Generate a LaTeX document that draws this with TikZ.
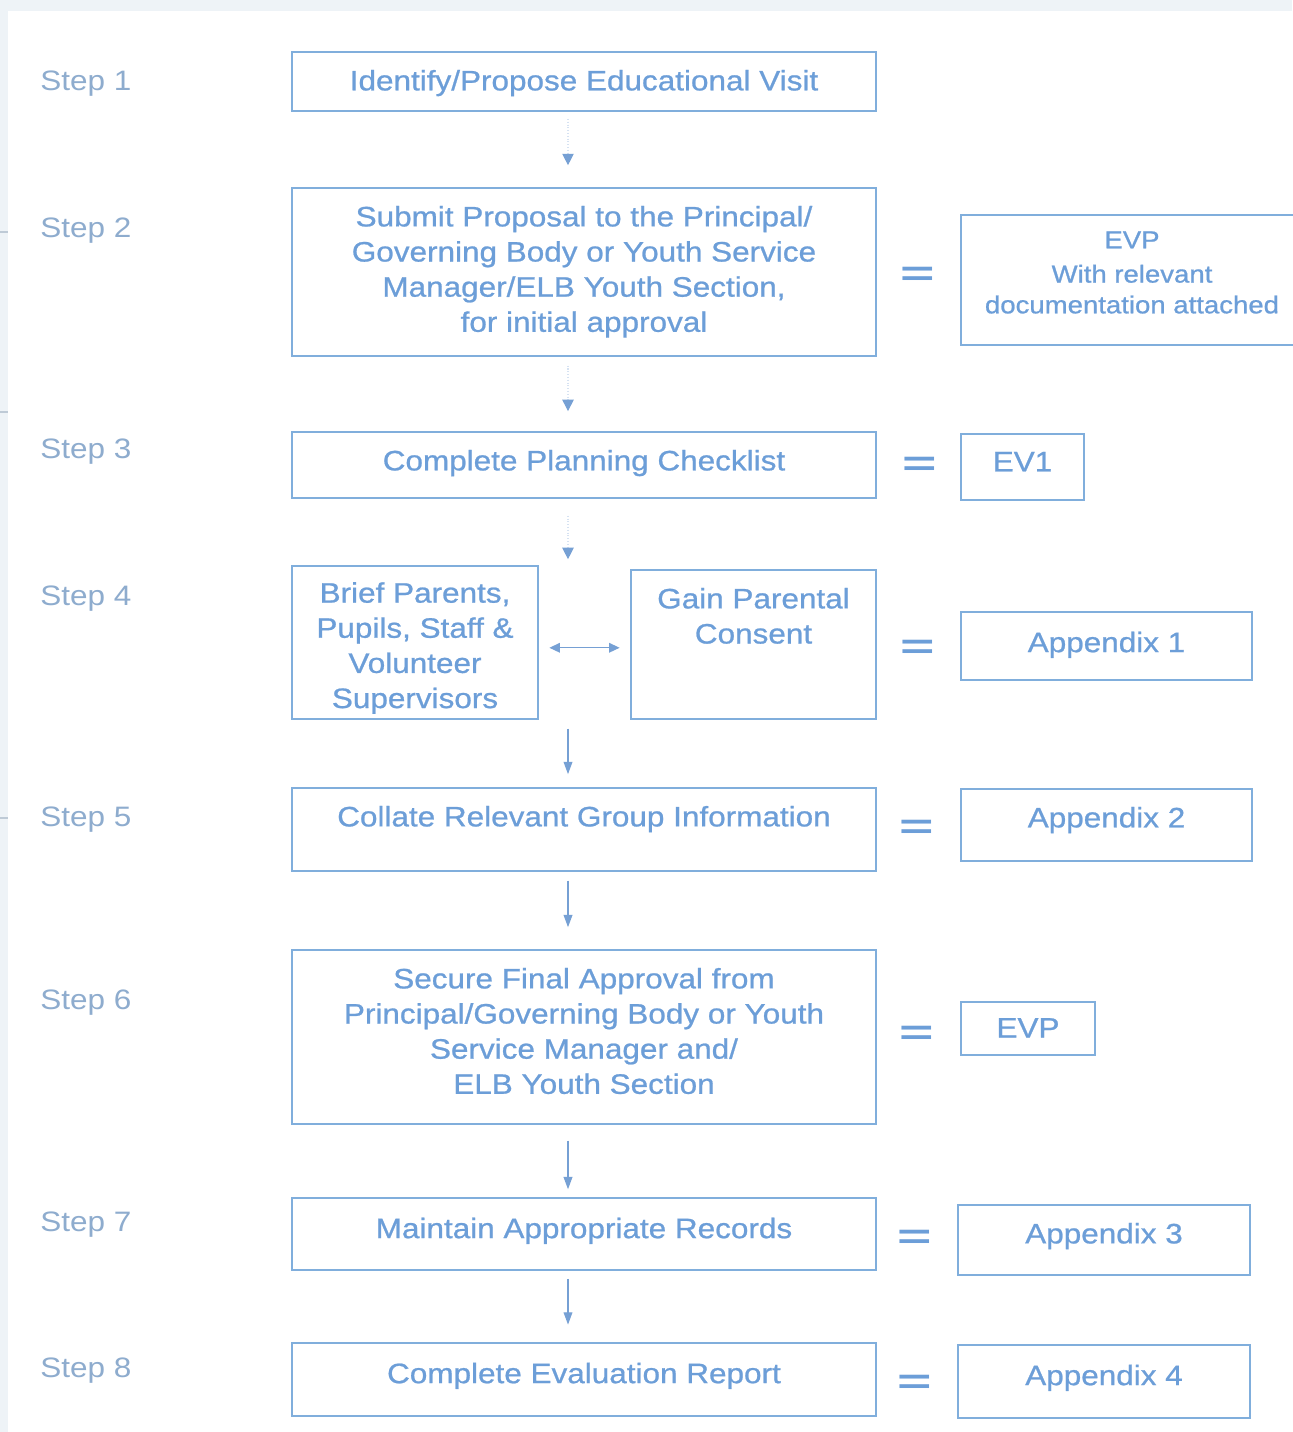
\documentclass[tikz,border=0pt]{standalone}
\usepackage{fontspec}
\setmainfont[FakeStretch=1.12]{Liberation Sans}
\newfontfamily\boxfont[FakeStretch=1.12,FakeBold=0.8]{Liberation Sans}
\usepackage{graphicx}
\usetikzlibrary{arrows.meta,positioning}

\definecolor{pageedge}{RGB}{238,243,247}
\definecolor{boxline}{RGB}{128,174,220}
\definecolor{boxtext}{RGB}{108,158,216}
\definecolor{steptext}{RGB}{142,172,206}
\definecolor{arrowc}{RGB}{118,160,212}
\definecolor{tickc}{RGB}{190,202,214}

\tikzset{
  stepbox/.style={draw=boxline, line width=1pt, minimum width=11.68cm, inner sep=0pt},
  docbox/.style={stepbox, minimum width=5.82cm},
  boxlabel/.style={align=center, anchor=north, yshift=-7.2pt, text=boxtext,
    font=\boxfont\fontsize{16}{20}\selectfont},
  steplabel/.style={anchor=west, inner sep=0pt, text=steptext, font=\fontsize{16}{20}\selectfont},
  eqsign/.style={inner sep=0pt, text=boxtext, font=\bfseries\fontsize{20}{20}\selectfont},
  flow/.style={draw=arrowc, line width=0.7pt, -{Triangle[width=5pt,length=7pt]}},
  faintflow/.style={draw=arrowc!30, line width=0.6pt, densely dotted,
    -{Triangle[width=6.5pt,length=6.5pt,color=arrowc]}},
}

\begin{document}
\begin{tikzpicture}[x=0.02cm, y=-0.02cm]
  %%%%% PAGE %%%%%
  \useasboundingbox (0,0) rectangle (1292,1432);
  \fill[pageedge] (0,0) rectangle (1292,1432);
  \fill[white] (8,11) rectangle (1292,1432);
  \draw[tickc, line width=0.6pt] (0,232) -- (8,232);
  \draw[tickc, line width=0.6pt] (0,412) -- (8,412);
  \draw[tickc, line width=0.6pt] (0,818) -- (8,818);

  %%%%% STEP LABELS %%%%%
  \node[steplabel] (l1) at (40,84) {Step 1};
  \node[steplabel] (l2) at (40,231) {Step 2};
  \node[steplabel] (l3) at (40,452) {Step 3};
  \node[steplabel] (l4) at (40,599) {Step 4};
  \node[steplabel] (l5) at (40,820) {Step 5};
  \node[steplabel] (l6) at (40,1003) {Step 6};
  \node[steplabel] (l7) at (40,1225) {Step 7};
  \node[steplabel] (l8) at (40,1371) {Step 8};

  %%%%% MAIN COLUMN %%%%%
  \node[stepbox, minimum height=1.18cm,
    label={[boxlabel]north:{Identify/Propose Educational Visit}}] (s1) at (584,81.5) {};
  \node[stepbox, minimum height=3.36cm,
    label={[boxlabel]north:{Submit Proposal to the Principal/\\Governing Body or Youth Service\\Manager/ELB Youth Section,\\for initial approval}}] (s2) at (584,272) {};
  \node[stepbox, minimum height=1.32cm,
    label={[boxlabel]north:{Complete Planning Checklist}}] (s3) at (584,465) {};
  \node[stepbox, minimum width=4.92cm, minimum height=3.06cm,
    label={[boxlabel, yshift=1pt]north:{Brief Parents,\\Pupils, Staff \&\\Volunteer\\Supervisors}}] (brief) at (415,642.5) {};
  \node[stepbox, minimum width=4.9cm, minimum height=2.98cm,
    label={[boxlabel]north:{Gain Parental\\Consent}}] (gain) at (753.5,644.5) {};
  \node[stepbox, minimum height=1.66cm,
    label={[boxlabel]north:{Collate Relevant Group Information}}] (s5) at (584,829.5) {};
  \node[stepbox, minimum height=3.48cm,
    label={[boxlabel]north:{Secure Final Approval from\\Principal/Governing Body or Youth\\Service Manager and/\\ELB Youth Section}}] (s6) at (584,1037) {};
  \node[stepbox, minimum height=1.44cm,
    label={[boxlabel, yshift=-1pt]north:{Maintain Appropriate Records}}] (s7) at (584,1234) {};
  \node[stepbox, minimum height=1.46cm,
    label={[boxlabel, yshift=-1pt]north:{Complete Evaluation Report}}] (s8) at (584,1379.5) {};

  %%%%% DOCUMENTS %%%%%
  \node[docbox, minimum width=6.84cm, minimum height=2.6cm,
    label={[boxlabel, yshift=0.9pt, font=\boxfont\fontsize{14}{17.5}\selectfont]north:{EVP\\[2pt]With relevant\\documentation attached}}] (evp) at (1132,280) {};
  \node[docbox, minimum width=2.46cm, minimum height=1.32cm,
    label={[boxlabel]north:{EV1}}] (ev1) at (1022.5,467) {};
  \node[docbox, minimum height=1.36cm,
    label={[boxlabel, yshift=-1pt]north:{Appendix 1}}] (app1) at (1106.5,646) {};
  \node[docbox, minimum height=1.44cm,
    label={[boxlabel]north:{Appendix 2}}] (app2) at (1106.5,825) {};
  \node[docbox, minimum width=2.68cm, minimum height=1.06cm,
    label={[boxlabel, yshift=1pt]north:{EVP}}] (evp6) at (1028,1028.5) {};
  \node[docbox, minimum width=5.84cm, minimum height=1.4cm,
    label={[boxlabel]north:{Appendix 3}}] (app3) at (1104,1240) {};
  \node[docbox, minimum width=5.84cm, minimum height=1.46cm,
    label={[boxlabel, yshift=-1pt]north:{Appendix 4}}] (app4) at (1104,1381.5) {};

  %%%%% EQUALS %%%%%
  \node[eqsign] (e2) at (918,276) {\scalebox{1.5}[1]{=}};
  \node[eqsign] (e3) at (920,466) {\scalebox{1.5}[1]{=}};
  \node[eqsign] (e4) at (918,649) {\scalebox{1.5}[1]{=}};
  \node[eqsign] (e5) at (917,829) {\scalebox{1.5}[1]{=}};
  \node[eqsign] (e6) at (917,1035) {\scalebox{1.5}[1]{=}};
  \node[eqsign] (e7) at (915,1239) {\scalebox{1.5}[1]{=}};
  \node[eqsign] (e8) at (915,1384) {\scalebox{1.5}[1]{=}};

  %%%%% ARROWS %%%%%
  \coordinate (spine) at (568,0);
  \draw[faintflow, shorten <=4pt, shorten >=12.5pt] (s1.south -| spine) -- (s2.north -| spine);
  \draw[faintflow, shorten <=5pt, shorten >=11.4pt] (s2.south -| spine) -- (s3.north -| spine);
  \draw[faintflow, shorten <=9.6pt, shorten >=3.4pt] (s3.south -| spine) -- (brief.north -| spine);
  \draw[flow, shorten <=5pt, shorten >=7.4pt] (brief.south -| spine) -- (s5.north -| spine);
  \draw[flow, shorten <=5pt, shorten >=12.5pt] (s5.south -| spine) -- (s6.north -| spine);
  \draw[flow, shorten <=9pt, shorten >=4.5pt] (s6.south -| spine) -- (s7.north -| spine);
  \draw[flow, shorten <=4.5pt, shorten >=10pt] (s7.south -| spine) -- (s8.north -| spine);
  \draw[flow, {Triangle[width=5.5pt,length=6pt]}-{Triangle[width=5.5pt,length=6pt]}, shorten <=6pt, shorten >=6pt]
    ([yshift=-3pt]brief.east) -- ([yshift=-3pt]brief.east -| gain.west);
\end{tikzpicture}
\end{document}
